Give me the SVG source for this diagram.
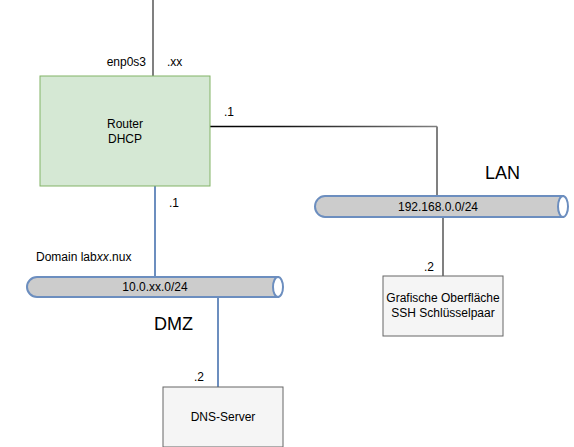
<svg xmlns="http://www.w3.org/2000/svg" width="574" height="447" viewBox="0 0 574 447">
<defs>
<style>
text{font-family:"Liberation Sans",Arial,sans-serif;font-size:12px;fill:#000}
.big{font-size:18px}
.pipe{fill:#cccccc;stroke:#6c8ebf;stroke-width:2}
.cap{fill:#ffffff;stroke:#6c8ebf;stroke-width:2}
.box{fill:#f5f5f5;stroke:#666666;stroke-width:1}
.gray{fill:none;stroke:#808080;stroke-width:2}
.blue{fill:none;stroke:#6c8ebf;stroke-width:2}
</style>
<linearGradient id="lg" gradientUnits="userSpaceOnUse" x1="210" y1="0" x2="437" y2="0">
<stop offset="0" stop-color="#000"/>
<stop offset="0.3" stop-color="#111"/>
<stop offset="1" stop-color="#808080"/>
</linearGradient>
</defs>
<g id="connectors">
<path class="gray" d="M153 0V76"/>
<path d="M210 126.5H437" fill="none" stroke="url(#lg)" stroke-width="1.5"/>
<path class="gray" d="M437 126.5V196"/>
<path class="gray" d="M443 217V276"/>
<path class="blue" d="M155 186V277"/>
<path class="blue" d="M218 297V387"/>
</g>
<g id="router">
<rect x="40" y="76" width="170" height="110" fill="#d5e8d4" stroke="#82b366" stroke-width="1"/>
<text x="125" y="128" text-anchor="middle">Router</text>
<text x="125" y="143" text-anchor="middle">DHCP</text>
</g>
<g id="labels">
<text x="146" y="66" text-anchor="end">enp0s3</text>
<text x="167" y="66">.xx</text>
<text x="224" y="116">.1</text>
<text x="169" y="207">.1</text>
<text x="36" y="261">Domain lab<tspan font-style="italic">xx</tspan>.nux</text>
<text x="485" y="179" class="big">LAN</text>
<text x="154" y="330" class="big">DMZ</text>
<text x="424" y="271">.2</text>
<text x="194" y="381">.2</text>
</g>
<g id="lan">
<path class="pipe" d="M325 196H563V217H325A10 10.5 0 0 1 325 196Z"/>
<ellipse class="cap" cx="563" cy="206.5" rx="5" ry="10.5"/>
<text x="438" y="211" text-anchor="middle">192.168.0.0/24</text>
</g>
<g id="dmz">
<path class="pipe" d="M37 277H278V297H37A10 10 0 0 1 37 277Z"/>
<ellipse class="cap" cx="278" cy="287" rx="5" ry="10"/>
<text x="155" y="291" text-anchor="middle">10.0.xx.0/24</text>
</g>
<g id="client">
<rect class="box" x="383" y="276" width="120" height="60"/>
<text x="443" y="302" text-anchor="middle">Grafische Oberfläche</text>
<text x="443" y="317" text-anchor="middle">SSH Schlüsselpaar</text>
</g>
<g id="dns">
<rect class="box" x="163" y="387" width="120" height="60"/>
<text x="223" y="421" text-anchor="middle">DNS-Server</text>
</g>
</svg>
